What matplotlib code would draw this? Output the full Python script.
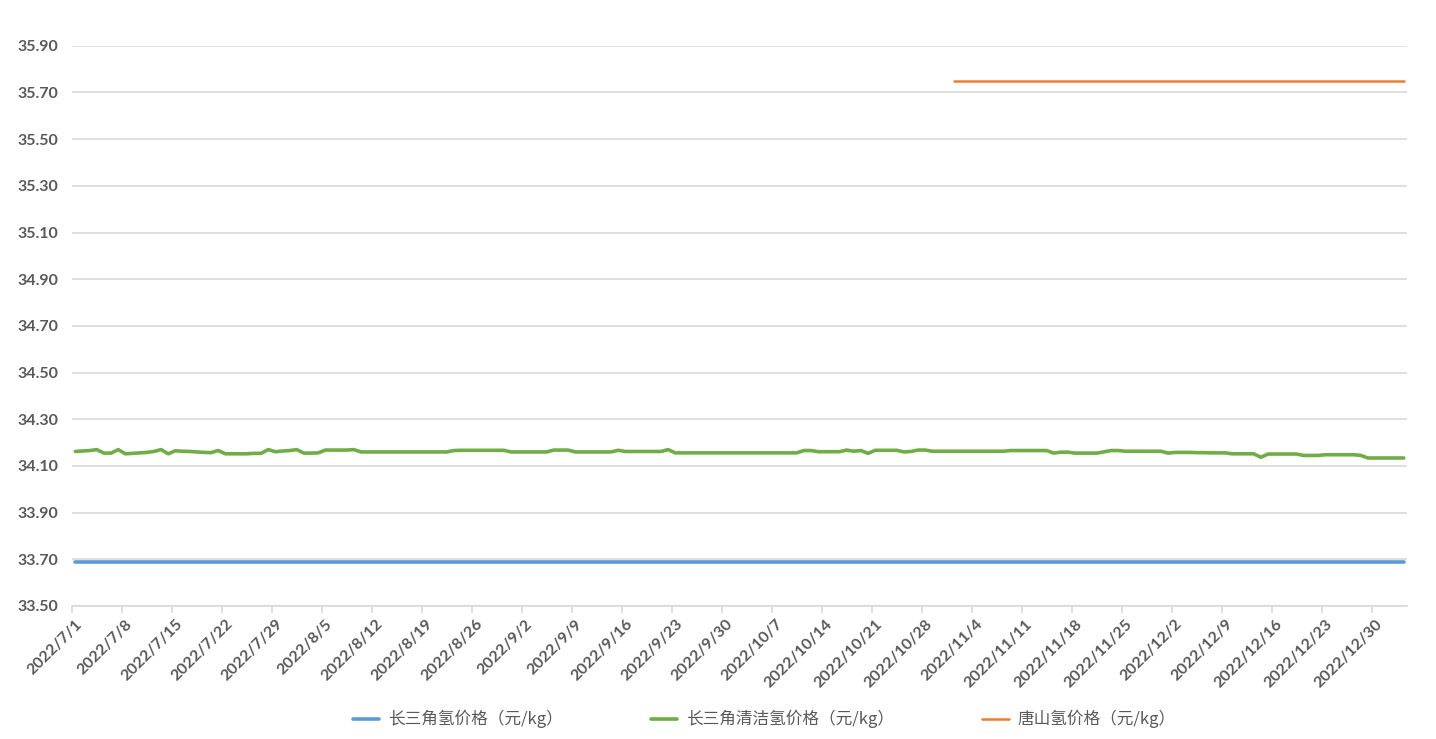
import numpy as np
import pandas as pd
import matplotlib
matplotlib.use("Agg")
import matplotlib.pyplot as plt

plt.rcParams['font.family'] = ['Noto Sans CJK SC', 'DejaVu Sans']

# --- 数据 ---
dates = pd.date_range('2022-07-01', periods=187, freq='D')
date_labels = [f"{d.year}/{d.month}/{d.day}" for d in dates]

green_vals = [
    34.162, 34.164, 34.166, 34.170, 34.155, 34.155, 34.170, 34.152, 34.154, 34.156,
    34.158, 34.162, 34.170, 34.152, 34.165, 34.163, 34.162, 34.160, 34.158, 34.157,
    34.166, 34.152, 34.152, 34.152, 34.152, 34.154, 34.154, 34.170, 34.161, 34.164,
    34.166, 34.170, 34.155, 34.155, 34.156, 34.168, 34.168, 34.168, 34.168, 34.170,
    34.160, 34.160, 34.160, 34.160, 34.160, 34.160, 34.160, 34.160, 34.160, 34.160,
    34.160, 34.160, 34.160, 34.166, 34.167, 34.167, 34.167, 34.167, 34.167, 34.167,
    34.167, 34.160, 34.160, 34.160, 34.160, 34.160, 34.160, 34.168, 34.168, 34.168,
    34.160, 34.160, 34.160, 34.160, 34.160, 34.160, 34.167, 34.162, 34.162, 34.162,
    34.162, 34.162, 34.162, 34.170, 34.156, 34.156, 34.156, 34.156, 34.156, 34.156,
    34.156, 34.156, 34.156, 34.156, 34.156, 34.156, 34.156, 34.156, 34.156, 34.156,
    34.156, 34.156, 34.166, 34.166, 34.161, 34.161, 34.161, 34.161, 34.168, 34.163,
    34.166, 34.154, 34.167, 34.167, 34.167, 34.167, 34.160, 34.162, 34.168, 34.168,
    34.163, 34.163, 34.163, 34.163, 34.163, 34.163, 34.163, 34.163, 34.163, 34.163,
    34.163, 34.166, 34.166, 34.166, 34.166, 34.166, 34.166, 34.155, 34.159, 34.159,
    34.155, 34.155, 34.155, 34.155, 34.160, 34.166, 34.166, 34.163, 34.163, 34.163,
    34.163, 34.163, 34.163, 34.155, 34.158, 34.158, 34.158, 34.157, 34.157, 34.156,
    34.156, 34.156, 34.152, 34.152, 34.152, 34.152, 34.137, 34.151, 34.151, 34.151,
    34.151, 34.151, 34.145, 34.145, 34.145, 34.148, 34.148, 34.148, 34.148, 34.148,
    34.145, 34.134, 34.134, 34.134, 34.134, 34.134, 34.134,
]
blue_vals = [33.69] * 187
orange_vals = [np.nan] * 123 + [35.75] * 64

series_names = ['长三角氢价格（元/kg）', '长三角清洁氢价格（元/kg）', '唐山氢价格（元/kg）']
y_ticks = [33.50, 33.70, 33.90, 34.10, 34.30, 34.50, 34.70, 34.90, 35.10, 35.30, 35.50, 35.70, 35.90]

# --- 绘图 ---
fig = plt.figure(figsize=(14.36, 7.39), dpi=100)
ax = fig.add_axes([0.05, 0.18, 0.93, 0.758])

x = np.arange(len(dates))
l1, = ax.plot(x, blue_vals, color='#5B9BD5', lw=2.6, solid_capstyle='round', zorder=3)
l2, = ax.plot(x, green_vals, color='#70AD47', lw=2.6, solid_capstyle='round', zorder=3)
l3, = ax.plot(x, orange_vals, color='#ED7D31', lw=1.8, solid_capstyle='round', zorder=3)

ax.set_xlim(-0.5, len(dates) - 0.5)
ax.set_ylim(33.50, 35.90)
ax.set_yticks(y_ticks)
ax.set_yticklabels([f"{v:.2f}" for v in y_ticks], fontsize=11.5, fontweight='bold',
                   color='#595959', family=['Lato', 'DejaVu Sans'])
ax.grid(axis='y', color='#D9D9D9', lw=1.2)
ax.set_axisbelow(True)

# x 轴：每 7 天一个标签
lab_idx = list(range(0, len(dates), 7))
ax.set_xticks(lab_idx)
ax.set_xticklabels([date_labels[i] for i in lab_idx], rotation=45, ha='right',
                   rotation_mode='anchor', fontsize=11.5, fontweight='bold', color='#595959',
                   family=['Lato', 'DejaVu Sans'])
ax.tick_params(axis='x', which='major', length=0, pad=8)
ax.set_xticks(np.arange(-0.5, len(dates), 7), minor=True)
ax.tick_params(axis='x', which='minor', length=5, color='#D9D9D9', width=1.2)
ax.tick_params(axis='y', length=0, pad=10)

for s in ['top', 'right', 'left']:
    ax.spines[s].set_visible(False)
ax.spines['bottom'].set_color('#D9D9D9')
ax.spines['bottom'].set_linewidth(1.2)

leg = fig.legend([l1, l2, l3], series_names, loc='lower center', bbox_to_anchor=(0.532, -0.006),
                 ncol=3, frameon=False, fontsize=12, columnspacing=5.3, handlelength=1.6,
                 handletextpad=0.5)
for t in leg.get_texts():
    t.set_color('#595959')

plt.savefig('out.png', dpi=100)
